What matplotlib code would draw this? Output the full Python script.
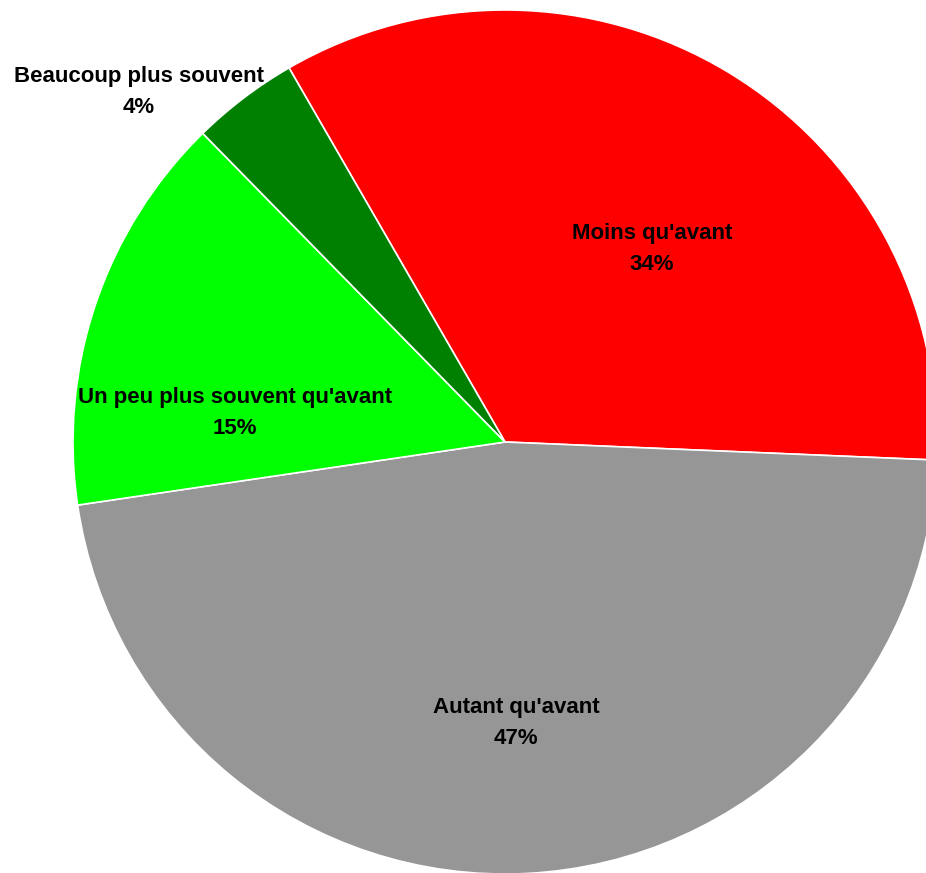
import numpy as np
import matplotlib.pyplot as plt

labels = ["Moins qu'avant", "Autant qu'avant", "Un peu plus souvent qu'avant", "Beaucoup plus souvent"]
values = [34, 47, 15, 4]
colors = ["#FF0000", "#969696", "#00FF00", "#008000"]

# figure in pixels, pie centre and radius measured on the reference
W, H = 926, 873
cx, cy, R = 505, 442, 432

fig = plt.figure(figsize=(W / 100, H / 100), dpi=100)
ax = fig.add_axes([0, 0, 1, 1])
ax.pie(values, colors=colors, startangle=120, counterclock=False, radius=1,
       wedgeprops=dict(edgecolor="white", linewidth=1.2))
ax.set_xlim(-cx / R, (W - cx) / R)
ax.set_ylim(-(H - cy) / R, cy / R)
ax.set_aspect("auto")
ax.axis("off")

# label positions (pixel coordinates of the text centre on the reference)
label_px = [(652, 249), (516, 723), (235, 413), (139, 92)]
for lab, v, (px, py) in zip(labels, values, label_px):
    ax.text((px - cx) / R, (cy - py) / R, "%s\n%d%%" % (lab, v), ha="center", va="center",
            fontsize=16, fontweight="bold", family="Liberation Sans", linespacing=1.6)

fig.savefig("out.png", dpi=100)
